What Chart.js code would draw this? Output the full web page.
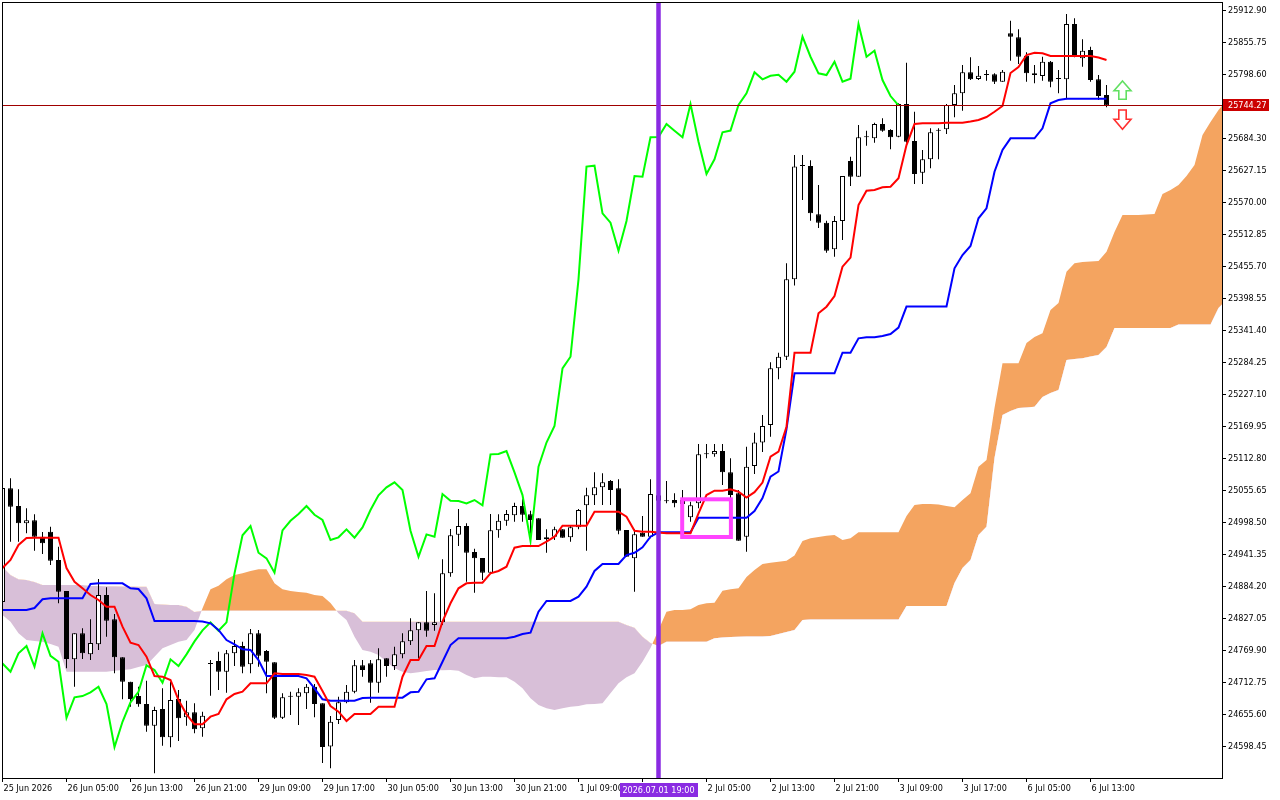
<!DOCTYPE html>
<html>
<head>
<meta charset="utf-8">
<script src="https://cdn.jsdelivr.net/npm/chart.js@4.4.1/dist/chart.umd.min.js"></script>
<style>
html,body{margin:0;padding:0;background:#fff;}
canvas{display:block;}
</style>
</head>
<body>
<canvas id="c" width="1280" height="800"></canvas>
<script>
// ---------- DATA ----------
// x tick labels, every 8 hourly bars (bar index 0 = first bar)
const xTickIdx = [0,8,16,24,32,40,48,56,64,72,80,88,96,104,112,120,128,136];
const xTickLabels = ['25 Jun 2026','26 Jun 05:00','26 Jun 13:00','26 Jun 21:00','29 Jun 09:00','29 Jun 17:00',
  '30 Jun 05:00','30 Jun 13:00','30 Jun 21:00','1 Jul 09:00','','2 Jul 05:00','2 Jul 13:00','2 Jul 21:00',
  '3 Jul 09:00','3 Jul 17:00','6 Jul 05:00','6 Jul 13:00'];
const yTicks = [24598.45,24655.60,24712.75,24769.90,24827.05,24884.20,24941.35,24998.50,25055.65,25112.80,
  25169.95,25227.10,25284.25,25341.40,25398.55,25455.70,25512.85,25570.00,25627.15,25684.30,25798.60,25855.75,25912.90];

const opens = [
 24857.3,25060.4,25028.8,24997.9,25003.2,24974.0,24982.9,24932.3,24877.0,24755.0,
 24801.4,24763.9,24781.8,24869.8,24826.4,24758.6,24715.0,24689.4,24675.2,24636.4,
 24666.2,24615.7,24684.1,24651.4,24660.3,24631.8,24746.6,24752.0,24732.8,24765.7,
 24778.7,24746.1,24801.4,24769.8,24749.6,24650.7,24688.2,24688.2,24694.3,24706.1,
 24676.4,24599.3,24646.6,24678.2,24697.1,24744.3,24747.8,24713.2,24756.8,24743.0,
 24763.9,24787.1,24806.8,24821.1,24816.2,24821.1,24908.6,24977.5,24993.1,24946.6,
 24935.9,24909.7,24985.4,25002.5,25012.2,25028.8,25014.0,25006.8,24969.3,24974.0,
 24987.2,24972.9,24990.7,25030.0,25047.9,25062.2,25073.4,25060.4,24985.9,24935.4,
 24981.1,24974.0,25048.0,25037.2,25039.5,25032.4,25008.6,25033.6,25121.1,25121.1,
 25127.0,25089.0,25051.5,24974.0,25100.2,25142.2,25173.4,25274.7,25295.4,25433.7,
 25636.0,25636.0,25549.8,25534.8,25487.3,25537.8,25645.0,25616.9,25687.3,25685.5,
 25711.0,25700.3,25688.4,25746.8,25680.7,25624.1,25648.0,25699.1,25701.6,25745.0,
 25765.9,25803.4,25791.4,25798.5,25799.8,25786.6,25873.0,25865.9,25833.0,25801.6,
 25796.8,25822.3,25791.4,25790.9,25889.6,25828.4,25843.2,25790.9,25762.8];
const highs = [
 25078.8,25078.3,25058.6,25024.7,25014.0,24982.3,24991.8,24956.1,24877.0,24801.4,
 24810.4,24826.4,24898.4,24883.6,24835.9,24758.6,24715.0,24706.1,24716.8,24670.3,
 24703.2,24714.4,24700.2,24681.0,24676.4,24661.4,24753.7,24768.6,24771.6,24789.5,
 24786.4,24809.1,24807.3,24771.6,24749.6,24694.3,24697.1,24703.2,24710.9,24710.9,
 24676.4,24653.7,24688.2,24709.1,24753.7,24753.7,24753.7,24774.6,24756.8,24777.5,
 24801.4,24828.2,24821.1,24877.0,24872.9,24933.6,24987.7,25023.4,24997.9,24952.5,
 24935.9,25014.5,25014.0,25021.6,25034.7,25040.8,25020.4,25006.8,24987.2,24991.8,
 24987.2,24993.1,25023.4,25061.5,25089.0,25087.2,25075.2,25076.5,24985.9,24987.2,
 25010.9,25076.5,25055.0,25073.4,25051.5,25057.4,25036.5,25139.5,25139.5,25139.5,
 25139.5,25114.0,25057.4,25134.7,25159.7,25191.3,25285.4,25302.6,25462.2,25655.7,
 25655.7,25646.2,25602.1,25538.3,25546.7,25618.2,25652.6,25709.2,25699.1,25713.4,
 25721.2,25701.6,25748.0,25820.5,25733.0,25664.6,25703.4,25703.4,25746.8,25780.7,
 25816.4,25830.2,25814.6,25807.5,25801.6,25807.5,25895.5,25880.2,25839.1,25816.4,
 25831.2,25823.6,25807.5,25907.5,25899.8,25862.3,25849.1,25798.5,25780.7];
const lows = [
 24852.0,24965.0,24965.0,24980.0,24949.0,24943.1,24923.4,24855.0,24738.9,24706.1,
 24755.5,24753.7,24771.6,24795.4,24730.0,24683.6,24670.3,24670.3,24625.7,24551.4,
 24600.7,24597.8,24609.1,24636.4,24622.8,24616.8,24690.0,24700.2,24695.3,24743.0,
 24730.0,24730.0,24741.8,24694.3,24648.4,24648.4,24655.5,24637.6,24666.2,24651.4,
 24569.8,24560.3,24639.4,24676.4,24694.3,24723.9,24677.5,24695.3,24723.9,24735.9,
 24756.8,24780.5,24756.8,24795.4,24806.1,24816.2,24902.5,24957.3,24893.6,24873.9,
 24896.6,24909.7,24972.2,24993.6,25000.8,25000.8,24968.1,24968.1,24945.4,24968.1,
 24972.2,24965.0,24987.2,24949.0,25030.6,25030.6,25030.6,24978.2,24938.2,24875.7,
 24974.0,24971.1,25030.0,25033.6,25026.5,25021.6,25000.8,25024.7,25114.0,25116.8,
 25066.3,25042.5,24966.8,24947.2,25085.9,25125.2,25152.5,25255.1,25289.5,25422.6,
 25575.3,25538.3,25525.3,25481.2,25474.0,25503.9,25600.3,25616.9,25672.3,25677.6,
 25697.3,25665.9,25687.3,25677.6,25603.9,25603.9,25631.9,25648.0,25693.2,25723.0,
 25734.8,25789.6,25789.6,25788.4,25782.5,25786.6,25824.1,25818.2,25786.6,25783.7,
 25788.4,25776.6,25765.9,25755.2,25830.2,25813.4,25786.6,25753.9,25740.9];
const closes = [
 25060.9,25027.5,24997.9,25003.2,24974.0,24962.2,24931.1,24875.7,24755.5,24801.4,
 24765.7,24784.1,24869.8,24823.9,24758.6,24715.0,24684.1,24674.6,24636.4,24664.4,
 24615.7,24682.3,24649.6,24660.3,24630.0,24654.3,24747.5,24732.8,24765.7,24778.7,
 24741.8,24801.4,24761.4,24750.7,24650.7,24687.1,24689.4,24696.1,24706.1,24675.2,
 24598.4,24643.5,24678.2,24697.1,24744.3,24735.9,24713.2,24755.0,24743.0,24763.9,
 24787.1,24806.8,24821.1,24806.1,24821.1,24908.6,24976.5,24993.1,24945.4,24935.4,
 24909.7,24985.4,25002.5,25014.5,25028.8,25013.2,25003.8,24968.1,24972.9,24987.2,
 24972.2,24990.7,25021.6,25047.9,25062.2,25071.1,25057.4,24984.7,24938.2,24978.2,
 24974.0,25050.2,25038.4,25037.7,25033.6,25039.5,25030.0,25121.1,25121.7,25127.0,
 25089.0,25048.4,24966.8,25099.0,25142.2,25171.7,25274.7,25295.4,25433.7,25635.1,
 25636.6,25551.5,25534.8,25484.8,25537.8,25618.2,25616.9,25687.3,25687.8,25711.0,
 25699.1,25687.3,25746.8,25679.4,25621.7,25648.0,25696.2,25699.4,25745.0,25765.9,
 25803.4,25790.9,25797.3,25798.9,25786.6,25804.4,25867.0,25831.2,25801.6,25798.5,
 25822.3,25786.6,25791.9,25889.6,25831.2,25841.9,25789.6,25761.0,25744.27];

// Ichimoku lines
const tenkan = [
 24918.1,24932.4,24959.2,24971.7,24972.2,24972.2,24972.2,24972.2,24918.1,24893.6,
 24881.9,24869.9,24861.0,24849.0,24849.0,24813.3,24784.7,24780.6,24759.7,24725.2,
 24724.0,24718.1,24682.4,24656.8,24639.0,24639.0,24652.6,24657.4,24683.6,24693.1,
 24697.2,24712.2,24712.2,24712.2,24730.1,24728.8,24728.8,24728.8,24727.0,24724.0,
 24698.4,24671.7,24661.5,24644.9,24657.4,24657.4,24657.4,24670.4,24670.4,24670.4,
 24724.0,24753.8,24753.8,24778.8,24778.8,24822.2,24855.1,24881.9,24890.8,24891.9,
 24891.9,24908.6,24912.8,24920.4,24954.4,24957.4,24957.4,24957.4,24965.1,24974.0,
 24993.7,24993.7,24993.7,24993.7,25018.7,25018.7,25018.7,25018.7,25009.7,24984.7,
 24982.9,24982.9,24981.5,24980.1,24980.1,24980.1,24980.1,25015.8,25048.5,25056.2,
 25056.2,25058.7,25054.4,25044.0,25053.5,25070.8,25116.9,25125.8,25170.5,25302.6,
 25302.6,25302.6,25373.0,25384.8,25403.9,25456.2,25472.6,25566.4,25591.9,25593.2,
 25598.0,25599.1,25614.1,25673.5,25711.0,25712.3,25712.3,25712.3,25713.4,25713.4,
 25713.4,25715.5,25718.2,25723.6,25733.0,25743.2,25802.1,25812.8,25834.3,25838.4,
 25837.3,25832.5,25832.5,25832.5,25832.5,25832.5,25832.5,25829.8,25825.4];
const kijun = [
 24843.1,24843.1,24843.1,24843.1,24846.7,24862.2,24864.0,24864.0,24864.0,24864.0,
 24864.0,24889.5,24890.8,24890.8,24890.8,24890.8,24881.9,24880.6,24864.0,24823.5,
 24823.5,24823.5,24823.5,24823.5,24823.5,24822.6,24819.3,24807.4,24789.5,24781.9,
 24772.9,24771.7,24753.8,24725.2,24725.2,24725.2,24725.2,24725.2,24721.1,24703.3,
 24683.6,24681.1,24681.1,24681.1,24681.1,24685.9,24686.5,24686.5,24686.5,24686.5,
 24686.5,24696.1,24697.2,24719.3,24721.1,24750.8,24780.6,24792.6,24792.6,24792.6,
 24792.6,24792.6,24792.6,24792.6,24795.4,24800.2,24802.6,24840.1,24859.2,24859.2,
 24859.2,24859.2,24866.9,24884.7,24912.8,24925.3,24925.3,24925.3,24941.3,24945.4,
 24955.1,24974.0,24981.9,24981.9,24981.9,24981.9,24981.9,25007.9,25007.9,25007.9,
 25007.9,25007.9,25007.9,25007.9,25019.9,25043.1,25081.2,25090.5,25166.3,25265.8,
 25265.8,25265.8,25265.8,25265.8,25265.8,25302.6,25302.6,25328.3,25330.1,25330.1,
 25332.4,25336.0,25347.6,25385.1,25385.1,25385.1,25385.1,25385.1,25385.1,25453.3,
 25477.1,25493.2,25542.6,25560.5,25625.9,25664.6,25685.5,25685.5,25685.5,25685.5,
 25703.4,25748.0,25753.9,25756.2,25756.2,25756.2,25756.2,25756.2,25756.2];
// Chikou span (green), plotted from bar 0 to bar 112
const chikou = [
 24747.5,24732.8,24765.7,24778.7,24741.8,24801.4,24761.4,24750.7,24650.7,24687.1,
 24689.4,24696.1,24706.1,24675.2,24598.4,24643.5,24678.2,24697.1,24744.3,24735.9,
 24713.2,24755.0,24743.0,24763.9,24787.1,24806.8,24821.1,24806.1,24821.1,24908.6,
 24976.5,24993.1,24945.4,24935.4,24909.7,24985.4,25002.5,25014.5,25028.8,25013.2,
 25003.8,24968.1,24972.9,24987.2,24972.2,24990.7,25021.6,25047.9,25062.2,25071.1,
 25057.4,24984.7,24938.2,24978.2,24974.0,25050.2,25038.4,25037.7,25033.6,25039.5,
 25030.0,25121.1,25121.7,25127.0,25089.0,25048.4,24966.8,25099.0,25142.2,25171.7,
 25274.7,25295.4,25433.7,25635.1,25636.6,25551.5,25534.8,25484.8,25537.8,25618.2,
 25616.9,25687.3,25687.8,25711.0,25699.1,25687.3,25746.8,25679.4,25621.7,25648.0,
 25696.2,25699.4,25745.0,25765.9,25803.4,25790.9,25797.3,25798.9,25786.6,25804.4,
 25867.0,25831.2,25801.6,25798.5,25822.3,25786.6,25791.9,25889.6,25831.2,25841.9,
 25789.6,25761.0,25744.27];
// Senkou spans (cloud), bar 0 .. 153
const spanA = [
 24834.2,24822.2,24801.5,24789.5,24787.7,24786.5,24782.4,24777.6,24732.9,24732.9,
 24732.9,24732.9,24732.9,24732.9,24734.7,24736.0,24737.2,24741.3,24744.9,24759.7,
 24774.7,24780.6,24786.5,24789.5,24807.4,24846.1,24880.1,24886.5,24897.9,24905.6,
 24908.6,24912.8,24915.8,24915.8,24890.8,24880.1,24877.0,24875.3,24874.0,24869.9,
 24868.1,24855.6,24837.2,24825.2,24795.4,24771.7,24768.6,24762.7,24750.8,24739.0,
 24732.9,24730.1,24731.9,24734.2,24736.0,24735.4,24736.0,24734.7,24727.0,24721.1,
 24724.0,24724.0,24722.9,24722.9,24715.1,24703.3,24685.4,24673.4,24667.6,24664.5,
 24667.6,24670.4,24671.7,24674.7,24675.2,24676.5,24694.3,24712.2,24722.9,24730.1,
 24750.8,24775.2,24807.4,24840.1,24843.1,24843.1,24844.4,24852.0,24855.1,24856.1,
 24877.6,24880.1,24881.9,24902.0,24914.5,24925.3,24927.6,24929.4,24931.1,24940.4,
 24966.3,24971.2,24973.5,24975.8,24977.0,24968.1,24971.2,24981.9,24981.9,24981.9,
 24981.9,24981.9,24981.9,25011.0,25030.6,25032.4,25032.4,25031.5,25028.8,25026.5,
 25039.5,25051.5,25099.0,25111.0,25203.9,25283.7,25283.7,25283.7,25319.9,25330.7,
 25337.3,25378.9,25391.4,25447.3,25462.3,25464.6,25465.5,25466.4,25483.0,25518.2,
 25548.5,25548.5,25548.5,25549.4,25550.3,25586.0,25593.2,25602.1,25618.2,25637.8,
 25691.4,25714.6,25736.1,25753.9];
const spanB = [
 24920.4,24905.6,24897.9,24896.7,24893.1,24887.8,24887.8,24887.8,24887.8,24887.8,
 24887.8,24886.0,24886.0,24885.4,24885.4,24885.1,24885.1,24884.7,24884.7,24853.8,
 24852.9,24852.0,24852.0,24849.0,24839.5,24841.9,24841.9,24841.9,24841.9,24841.9,
 24841.9,24841.9,24841.9,24841.9,24841.9,24841.9,24841.9,24841.9,24841.9,24841.9,
 24841.9,24841.9,24841.9,24841.9,24837.2,24822.2,24822.2,24822.2,24822.2,24822.2,
 24822.2,24822.2,24822.2,24822.2,24822.2,24822.2,24822.2,24822.2,24822.2,24822.2,
 24822.2,24822.2,24822.2,24822.2,24822.2,24822.2,24822.2,24822.2,24822.2,24822.2,
 24822.2,24822.2,24822.2,24822.2,24822.2,24822.2,24822.2,24822.2,24816.3,24811.5,
 24795.4,24784.2,24778.8,24786.5,24786.5,24786.5,24786.5,24786.5,24786.5,24792.6,
 24794.0,24794.9,24795.4,24795.8,24795.8,24795.8,24796.7,24800.2,24803.8,24807.4,
 24825.2,24826.1,24826.1,24826.1,24826.1,24826.1,24826.1,24826.1,24826.1,24826.1,
 24826.1,24826.1,24826.1,24850.2,24850.2,24850.2,24850.2,24850.2,24850.2,24891.3,
 24918.1,24932.4,24977.0,24991.9,25114.6,25191.4,25198.5,25203.9,25204.8,25206.2,
 25223.5,25230.6,25236.0,25289.6,25291.4,25292.6,25295.8,25298.5,25312.8,25346.7,
 25346.7,25346.7,25346.7,25346.7,25346.7,25346.7,25346.7,25353.0,25353.0,25353.0,
 25353.0,25353.0,25382.4,25396.7];

const lastPrice = 25744.27;
const vLineBar = 82;                 // 2026.07.01 19:00
const vLineLabel = '2026.07.01 19:00';
const boxBars = [84.96, 91.05];      // magenta rectangle (bar range)
const boxPrices = [25040.8, 24973.5]; // magenta rectangle (price range)
const upArrow = {bar: 140, price: 25787.9};
const downArrow = {bar: 140, price: 25701.6};

// ---------- CHART ----------
const FONT = {family: '"DejaVu Sans Condensed", "DejaVu Sans", sans-serif', size: 9};
const xMin = -0.0625, xMax = 152.4375;
const yMin = 24543.08, yMax = 25928.97;

const pts = arr => arr.map((v, i) => ({x: i, y: v}));
const wickData = closes.map((c, i) => ({x: i, y: [lows[i], highs[i]]}));
const bodyData = closes.map((c, i) => ({x: i, y: [opens[i], c]}));
const bodyColors = closes.map((c, i) => c >= opens[i] ? '#ffffff' : '#000000');

const noPad = s => { s.paddingTop = 0; s.paddingBottom = 0; s.paddingLeft = 0; s.paddingRight = 0; };

const overlay = {
  id: 'overlay',
  beforeDraw(chart) {
    const ctx = chart.ctx;
    ctx.save(); ctx.fillStyle = '#fff'; ctx.fillRect(0, 0, chart.width, chart.height); ctx.restore();
  },
  afterDatasetsDraw(chart) {
    const {ctx, chartArea: a, scales: {x, y}} = chart;
    ctx.save();
    ctx.beginPath(); ctx.rect(a.left, a.top, a.right - a.left, a.bottom - a.top); ctx.clip();
    // current price line
    const py = Math.round(y.getPixelForValue(lastPrice)) + 0.5;
    ctx.strokeStyle = '#a00000'; ctx.lineWidth = 1;
    ctx.beginPath(); ctx.moveTo(a.left, py); ctx.lineTo(a.right, py); ctx.stroke();
    // magenta rectangle
    const rx1 = x.getPixelForValue(boxBars[0]), rx2 = x.getPixelForValue(boxBars[1]);
    const ry1 = y.getPixelForValue(boxPrices[0]), ry2 = y.getPixelForValue(boxPrices[1]);
    ctx.strokeStyle = '#ff44ff'; ctx.lineWidth = 4;
    ctx.strokeRect(rx1, ry1, rx2 - rx1, ry2 - ry1);
    // purple vertical line
    const vx = x.getPixelForValue(vLineBar);
    ctx.strokeStyle = '#8a2be2'; ctx.lineWidth = 4.5;
    ctx.beginPath(); ctx.moveTo(vx, a.top); ctx.lineTo(vx, a.bottom); ctx.stroke();
    // arrows
    const ux = x.getPixelForValue(upArrow.bar), uy = y.getPixelForValue(upArrow.price);
    ctx.lineWidth = 1.6; ctx.lineJoin = 'miter';
    ctx.strokeStyle = '#62e062'; ctx.fillStyle = '#ffffff';
    ctx.beginPath();
    ctx.moveTo(ux, uy); ctx.lineTo(ux + 8.5, uy + 9.7); ctx.lineTo(ux + 3.7, uy + 9.7);
    ctx.lineTo(ux + 3.7, uy + 18.3); ctx.lineTo(ux - 3.7, uy + 18.3); ctx.lineTo(ux - 3.7, uy + 9.7);
    ctx.lineTo(ux - 8.5, uy + 9.7); ctx.closePath(); ctx.fill(); ctx.stroke();
    const dx = x.getPixelForValue(downArrow.bar), dy = y.getPixelForValue(downArrow.price);
    ctx.strokeStyle = '#ff3030';
    ctx.beginPath();
    ctx.moveTo(dx, dy); ctx.lineTo(dx + 8.5, dy - 10); ctx.lineTo(dx + 3.7, dy - 10);
    ctx.lineTo(dx + 3.7, dy - 19.3); ctx.lineTo(dx - 3.7, dy - 19.3); ctx.lineTo(dx - 3.7, dy - 10);
    ctx.lineTo(dx - 8.5, dy - 10); ctx.closePath(); ctx.fill(); ctx.stroke();
    ctx.restore();
  },
  afterDraw(chart) {
    const {ctx, chartArea: a, scales: {x, y}} = chart;
    ctx.save();
    // frame
    ctx.strokeStyle = '#000'; ctx.lineWidth = 1;
    ctx.strokeRect(a.left + 0.5, a.top + 0.5, a.right - a.left, a.bottom - a.top);
    // price label on axis
    const py = y.getPixelForValue(lastPrice);
    ctx.fillStyle = '#cc0000';
    ctx.fillRect(a.right + 1, Math.round(py) - 6, 46, 12);
    ctx.fillStyle = '#ffffff';
    ctx.font = FONT.size + 'px ' + FONT.family;
    ctx.textBaseline = 'middle'; ctx.textAlign = 'left';
    ctx.fillText(lastPrice.toFixed(2), a.right + 6, Math.round(py) + 0.5);
    // vertical line label on time axis
    const vx = x.getPixelForValue(vLineBar);
    ctx.fillStyle = '#8a2be2';
    ctx.fillRect(Math.round(vx) - 39, a.bottom + 5, 78, 14);
    ctx.fillStyle = '#ffffff'; ctx.textAlign = 'center';
    ctx.fillText(vLineLabel, vx, a.bottom + 12.5);
    ctx.restore();
  }
};

new Chart(document.getElementById('c'), {
  type: 'bar',
  data: {
    datasets: [
      {type: 'line', label: 'Senkou A', data: pts(spanA), borderWidth: 0, borderColor: 'rgba(0,0,0,0)',
       pointRadius: 0, tension: 0, order: 5,
       fill: {target: '+1', above: '#f4a460', below: '#d8bfd8'}},
      {type: 'line', label: 'Senkou B', data: pts(spanB), borderWidth: 0, borderColor: 'rgba(0,0,0,0)',
       pointRadius: 0, tension: 0, order: 5, fill: false},
      {type: 'bar', label: 'wicks', data: wickData, backgroundColor: '#000', borderWidth: 0,
       barThickness: 1, grouped: false, inflateAmount: 0, order: 4},
      {type: 'bar', label: 'bodies', data: bodyData, backgroundColor: bodyColors, borderColor: '#000',
       borderWidth: 1, borderSkipped: false, barThickness: 5, grouped: false, inflateAmount: 0,
       minBarLength: 1, order: 3},
      {type: 'line', label: 'Chikou', data: pts(chikou), borderColor: '#00ff00', borderWidth: 2,
       pointRadius: 0, tension: 0, fill: false, order: 2},
      {type: 'line', label: 'Kijun', data: pts(kijun), borderColor: '#0000ff', borderWidth: 2,
       pointRadius: 0, tension: 0, fill: false, order: 1},
      {type: 'line', label: 'Tenkan', data: pts(tenkan), borderColor: '#ff0000', borderWidth: 2,
       pointRadius: 0, tension: 0, fill: false, order: 0}
    ]
  },
  options: {
    responsive: false,
    animation: false,
    events: [],
    layout: {padding: {left: 2, top: 2, right: 0, bottom: 0}},
    plugins: {legend: {display: false}, tooltip: {enabled: false}},
    scales: {
      x: {
        type: 'linear', min: xMin, max: xMax, offset: false,
        grid: {display: true, drawOnChartArea: false, drawTicks: true, tickLength: 4, color: '#000', offset: false},
        border: {display: true, color: '#000', width: 1},
        ticks: {autoSkip: false, maxRotation: 0, minRotation: 0, align: 'start', padding: 1, labelOffset: 1,
                color: '#000', font: FONT, callback: (v, i) => xTickLabels[i]},
        afterBuildTicks: s => { s.ticks = xTickIdx.map(v => ({value: v})); },
        afterFit: s => { s.height = 22; noPad(s); }
      },
      y: {
        type: 'linear', position: 'right', min: yMin, max: yMax,
        grid: {display: true, drawOnChartArea: false, drawTicks: true, tickLength: 4, color: '#000'},
        border: {display: true, color: '#000', width: 1},
        ticks: {padding: 2, color: '#000', font: FONT, callback: v => Number(v).toFixed(2)},
        afterBuildTicks: s => { s.ticks = yTicks.map(v => ({value: v})); },
        afterFit: s => { s.width = 58; noPad(s); }
      }
    }
  },
  plugins: [overlay]
});
</script>
</body>
</html>
